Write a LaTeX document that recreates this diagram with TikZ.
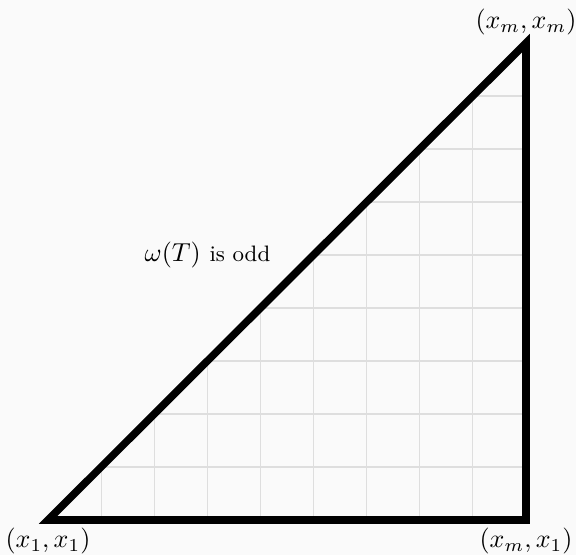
\documentclass[tikz,border=0pt]{standalone}
\begin{document}
\begin{tikzpicture}[x=0.3846pt,y=-0.3846pt,
  gridline/.style={draw=black!13,line width=0.45pt},
  edge/.style={draw=black,line width=2.9pt,line join=miter},
  lbl/.style={inner sep=3pt}]
\fill[black!2] (0,0) rectangle (576,555);
\useasboundingbox (0,0) rectangle (576,555);
\coordinate (A) at (48,520);
\coordinate (B) at (526,520);
\coordinate (C) at (526,43);
\begin{scope}
  \clip (A) -- (B) -- (C) -- cycle;
  \foreach \i in {1,...,8} {
    \draw[gridline] (48+53.1*\i,520) -- (48+53.1*\i,43);
    \draw[gridline] (48,520-53*\i) -- (526,520-53*\i);
  }
\end{scope}
\draw[edge] (A) -- (B) -- (C) -- cycle;
\node[lbl,below] (la) at (A) {$(x_1,x_1)$};
\node[lbl,below] (lb) at (B) {$(x_m,x_1)$};
\node[lbl,above] (lc) at (C) {$(x_m,x_m)$};
\node (lw) at (207.5,255) {$\omega(T)$ {\fontsize{8.6}{10}\selectfont is odd}};
\end{tikzpicture}
\end{document}
